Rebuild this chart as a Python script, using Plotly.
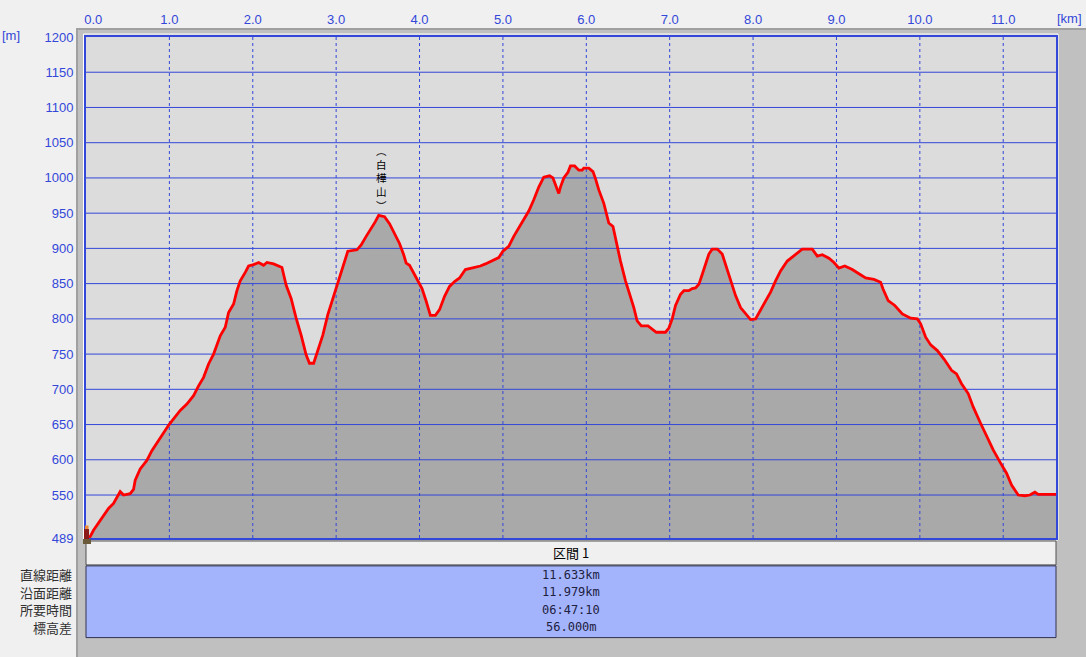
import plotly.graph_objects as go

# ---------------- data ----------------
dist_km = [0.00, 0.05, 0.09, 0.17, 0.27, 0.33, 0.39, 0.41, 0.45, 0.53, 0.57, 0.59, 0.65, 0.73, 0.79,
           0.89, 0.99, 1.05, 1.13, 1.21, 1.29, 1.35, 1.41, 1.47, 1.53, 1.61, 1.67, 1.71, 1.77, 1.81,
           1.85, 1.91, 1.95, 2.01, 2.07, 2.13, 2.17, 2.25, 2.30, 2.35, 2.40, 2.46, 2.52, 2.58, 2.64,
           2.68, 2.73, 2.78, 2.84, 2.90, 2.96, 3.02, 3.08, 3.14, 3.25, 3.30, 3.36, 3.42, 3.47, 3.51,
           3.58, 3.64, 3.70, 3.76, 3.81, 3.84, 3.88, 3.92, 3.98, 4.03, 4.08, 4.13, 4.19, 4.24, 4.30,
           4.36, 4.42, 4.48, 4.55, 4.63, 4.73, 4.79, 4.89, 4.95, 5.00, 5.07, 5.13, 5.19, 5.25, 5.31,
           5.37, 5.43, 5.49, 5.56, 5.60, 5.65, 5.67, 5.69, 5.73, 5.78, 5.81, 5.86, 5.91, 5.95, 5.97,
           6.03, 6.08, 6.11, 6.15, 6.21, 6.27, 6.32, 6.37, 6.41, 6.47, 6.53, 6.57, 6.61, 6.66, 6.74,
           6.77, 6.84, 6.95, 6.99, 7.03, 7.07, 7.13, 7.17, 7.23, 7.27, 7.31, 7.35, 7.39, 7.43, 7.47,
           7.51, 7.57, 7.63, 7.67, 7.73, 7.79, 7.85, 7.91, 7.97, 8.03, 8.09, 8.15, 8.21, 8.27, 8.33,
           8.41, 8.49, 8.59, 8.71, 8.77, 8.83, 8.91, 8.97, 9.03, 9.10, 9.19, 9.27, 9.35, 9.45, 9.53,
           9.56, 9.62, 9.70, 9.79, 9.89, 9.97, 10.01, 10.07, 10.13, 10.21, 10.29, 10.38, 10.44, 10.50,
           10.58, 10.64, 10.72, 10.80, 10.88, 10.96, 11.04, 11.10, 11.18, 11.26, 11.32, 11.38, 11.42,
           11.633]
elev_m = [489, 491, 500, 514, 531, 538, 552, 555, 550, 552, 558, 571, 587, 599, 613,
          632, 649, 658, 670, 679, 691, 705, 717, 736, 750, 776, 788, 809, 821, 840,
          854, 866, 875, 877, 880, 876, 880, 878, 875, 873, 848, 829, 801, 777, 749,
          737, 737, 754, 777, 806, 829, 853, 876, 896, 898, 905, 917, 928, 938, 947,
          945, 935, 921, 907, 891, 879, 876, 867, 853, 843, 825, 805, 805, 813, 832,
          846, 853, 858, 870, 872, 875, 878, 883, 887, 896, 903, 917, 929, 943, 953,
          969, 987, 1001, 1003, 1000, 985, 978, 987, 1000, 1008, 1017, 1017, 1011, 1011, 1014,
          1014, 1009, 999, 983, 964, 936, 931, 903, 882, 854, 832, 816, 797, 790, 790,
          787, 781, 781, 787, 800, 819, 835, 840, 840, 843, 844, 849, 863, 877, 892,
          899, 899, 892, 877, 854, 833, 816, 807, 799, 800, 812, 826, 838, 854, 868,
          882, 889, 899, 899, 889, 891, 886, 880, 872, 875, 870, 864, 858, 856, 852,
          842, 826, 819, 807, 801, 800, 793, 774, 763, 755, 743, 727, 722, 708,
          694, 675, 654, 633, 614, 597, 581, 564, 550, 549, 550, 554, 551,
          551]

x_ticks = [0, 1, 2, 3, 4, 5, 6, 7, 8, 9, 10, 11]
x_tick_labels = ["\u00a0\u00a0\u00a0\u00a00.0", "1.0", "2.0", "3.0", "4.0", "5.0", "6.0", "7.0", "8.0",
                 "9.0", "10.0", "11.0"]
y_ticks = [489, 550, 600, 650, 700, 750, 800, 850, 900, 950, 1000, 1050, 1100, 1150, 1200]
y_grid = [550, 600, 650, 700, 750, 800, 850, 900, 950, 1000, 1050, 1100, 1150]
x_grid = [1, 2, 3, 4, 5, 6, 7, 8, 9, 10, 11]
x_max = 11.633
y_min, y_max = 489, 1200

peak_name = "︵<br>白<br>樺<br>山<br>︶"
peak_km, peak_label_elev = 3.54, 1000

table_header = "区間 1"
table_labels = ["直線距離", "沿面距離", "所要時間", "標高差"]
table_values = ["11.633km", "11.979km", "06:47:10", "56.000m"]

# ---------------- layout helpers ----------------
W, H = 1086, 657
ML, MR, MT, MB = 86, 30, 35, 119
PW, PH = W - ML - MR, H - MT - MB
def px(x):
    return (x - ML) / PW
def py(y):
    return (H - MB - y) / PH

BLUE = "#3347d9"
JP = "Noto Sans CJK JP"
NUM = "Liberation Sans"
MONO = "DejaVu Sans Mono"

fig = go.Figure()

# filled profile (no line)
fig.add_trace(go.Scatter(x=dist_km, y=elev_m, mode="lines", fill="tozeroy",
                         fillcolor="#a9a9a9", line=dict(width=0, color="rgba(0,0,0,0)"),
                         hoverinfo="skip", showlegend=False))

# grid drawn above the fill
gx, gy = [], []
for v in y_grid:
    gx += [0, x_max, None]
    gy += [v, v, None]
fig.add_trace(go.Scatter(x=gx, y=gy, mode="lines", line=dict(color=BLUE, width=1),
                         hoverinfo="skip", showlegend=False))
vx, vy = [], []
for v in x_grid:
    vx += [v, v, None]
    vy += [y_min, y_max, None]
fig.add_trace(go.Scatter(x=vx, y=vy, mode="lines", line=dict(color=BLUE, width=1, dash="dot"),
                         hoverinfo="skip", showlegend=False))

# red profile line
fig.add_trace(go.Scatter(x=dist_km, y=elev_m, mode="lines",
                         line=dict(color="#ff0000", width=2.8),
                         hoverinfo="skip", showlegend=False))

shapes = []
# outer gray frame
shapes.append(dict(type="rect", xref="paper", yref="paper", layer="below",
                   x0=px(77), x1=px(1092), y0=py(662), y1=py(27),
                   fillcolor="#c0c0c0", line=dict(color="#a0a0a0", width=2)))
# white inner outline
shapes.append(dict(type="rect", xref="paper", yref="paper", layer="below",
                   x0=px(83.5), x1=px(1058), y0=py(540), y1=py(32),
                   fillcolor="rgba(0,0,0,0)", line=dict(color="#ffffff", width=1)))
# plot area background (above the frame)
shapes.append(dict(type="rect", xref="paper", yref="paper", layer="below",
                   x0=0, x1=1, y0=0, y1=1,
                   fillcolor="#dcdcdc", line=dict(width=0)))
# table header
shapes.append(dict(type="rect", xref="paper", yref="paper", layer="above",
                   x0=px(86), x1=px(1056), y0=py(565), y1=py(541),
                   fillcolor="#f0f0f0", line=dict(color="#505050", width=1)))
# table body
shapes.append(dict(type="rect", xref="paper", yref="paper", layer="above",
                   x0=px(86), x1=px(1056), y0=py(638), y1=py(566),
                   fillcolor="#a4b4fc", line=dict(color="#303050", width=1)))
# little hiker icon at the start
shapes.append(dict(type="rect", xref="paper", yref="paper", layer="above",
                   x0=px(84), x1=px(89), y0=py(539), y1=py(529),
                   fillcolor="#8b1a1a", line=dict(width=0)))
shapes.append(dict(type="rect", xref="paper", yref="paper", layer="above",
                   x0=px(85), x1=px(88.5), y0=py(529), y1=py(525.5),
                   fillcolor="#f08a30", line=dict(width=0)))
shapes.append(dict(type="rect", xref="paper", yref="paper", layer="above",
                   x0=px(83), x1=px(91), y0=py(544), y1=py(539),
                   fillcolor="#6b5a3a", line=dict(width=0)))

annotations = []
annotations.append(dict(xref="paper", yref="paper", x=px(0), y=py(33), xanchor="left", yanchor="middle",
                        text="[m]", showarrow=False, font=dict(family=NUM, size=13, color=BLUE)))
annotations.append(dict(xref="paper", yref="paper", x=px(1084), y=py(16), xanchor="right", yanchor="middle",
                        text="[km]", showarrow=False, font=dict(family=NUM, size=13, color=BLUE)))

# vertical peak label
annotations.append(dict(x=peak_km, y=peak_label_elev, xref="x", yref="y", text=peak_name,
                        showarrow=False, xanchor="center", yanchor="middle", borderpad=0,
                        font=dict(family=JP, size=10.5, color="#000000")))

# table texts
annotations.append(dict(xref="paper", yref="paper", x=px(571), y=py(553), text=table_header,
                        showarrow=False, xanchor="center", yanchor="middle",
                        font=dict(family=JP, size=13, color="#000000")))
row_y = [575, 592.5, 610, 627.5]
for lab, val, yy in zip(table_labels, table_values, row_y):
    annotations.append(dict(xref="paper", yref="paper", x=px(73.5), y=py(yy), text=lab,
                            showarrow=False, xanchor="right", yanchor="middle",
                            font=dict(family=JP, size=13, color="#303030")))
    annotations.append(dict(xref="paper", yref="paper", x=px(571), y=py(yy), text=val,
                            showarrow=False, xanchor="center", yanchor="middle",
                            font=dict(family=MONO, size=12, color="#202040")))

fig.update_layout(
    width=W, height=H,
    margin=dict(l=ML, r=MR, t=MT, b=MB, pad=0),
    paper_bgcolor="#f0f0f0",
    plot_bgcolor="#dcdcdc",
    shapes=shapes,
    annotations=annotations,
    showlegend=False,
    xaxis=dict(range=[0, x_max], side="top", tickvals=x_ticks, ticktext=x_tick_labels,
               showgrid=False, zeroline=False, showline=True, mirror=True,
               linecolor=BLUE, linewidth=2, ticks="", ticklabelstandoff=6,
               tickfont=dict(family=NUM, size=13, color=BLUE), layer="above traces",
               fixedrange=True),
    yaxis=dict(range=[y_min, y_max], tickvals=y_ticks, ticktext=[str(v) for v in y_ticks],
               showgrid=False, zeroline=False, showline=True, mirror=True,
               linecolor=BLUE, linewidth=2, ticks="", ticklabelstandoff=8,
               tickfont=dict(family=NUM, size=13, color=BLUE), layer="above traces",
               fixedrange=True),
)

fig.write_html("out.html", config={"displayModeBar": False},
               post_script="document.body.style.margin='0';document.body.style.overflow='hidden';")
